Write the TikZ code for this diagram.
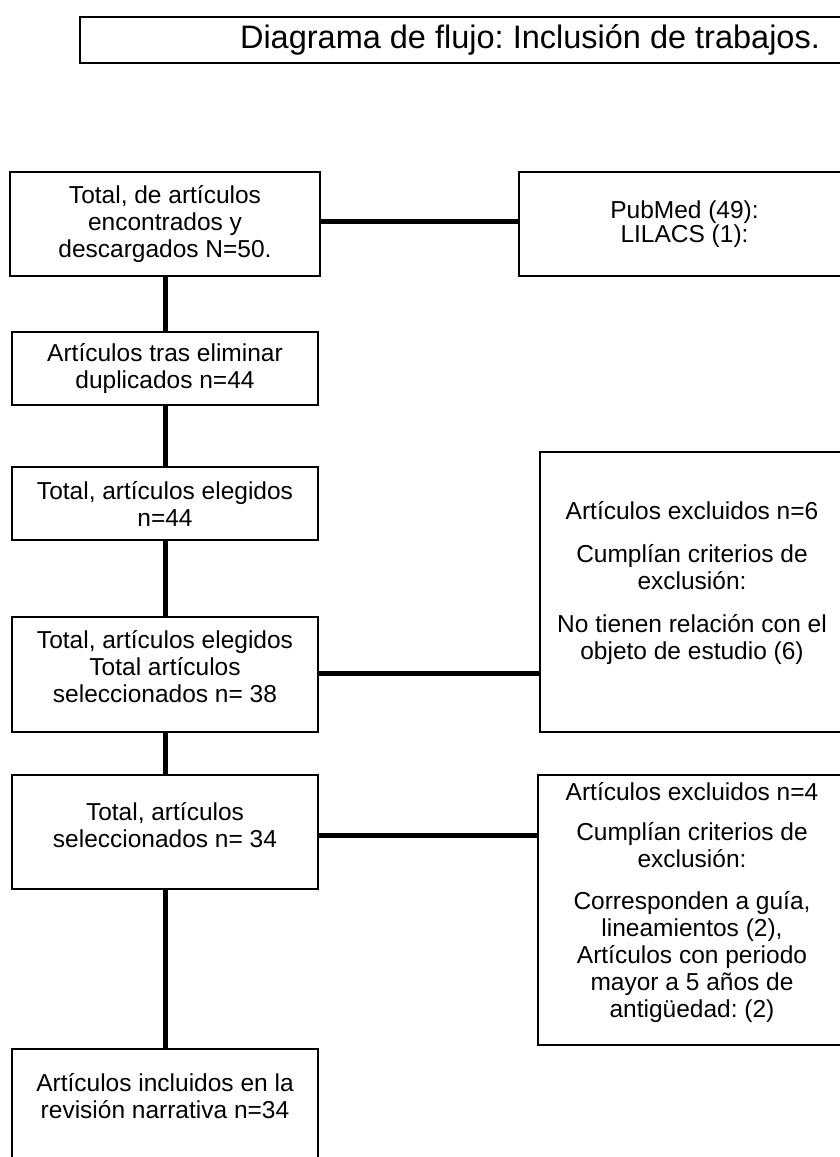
\documentclass[tikz,border=0pt]{standalone}
\usepackage{fontspec}
\setmainfont{Liberation Sans}
\frenchspacing
\begin{document}
\begin{tikzpicture}[x=1pt,y=-1pt,
  box/.style={draw=black, line width=2pt, align=center, inner sep=0pt,
    font=\fontsize{24.5}{27}\selectfont},
  plain/.style={align=center, inner sep=0pt, font=\fontsize{24.5}{27}\selectfont},
  conn/.style={line width=5pt}]
\useasboundingbox (0,0) rectangle (840,1157);
\clip (0,0) rectangle (840,1157);
\fill[white] (0,0) rectangle (840,1157);
% title
\node[draw=black, line width=1.5pt, minimum width=900pt, minimum height=46pt,
  inner sep=0pt, font=\fontsize{32.5}{36}\selectfont] (title) at (530,40)
  {Diagrama de flujo: Inclusión de trabajos.};
% left column
\node[box, minimum width=310pt, minimum height=104pt] (b1) at (165,224)
  {Total, de artículos\\encontrados y\\descargados N=50.};
\node[box, minimum width=331pt, minimum height=104pt] (pub) at (684.5,224)
  {PubMed (49):\\[-3pt]LILACS (1):};
\node[box, minimum width=306pt, minimum height=73pt] (b2) at (165,368.5)
  {Artículos tras eliminar\\duplicados n=44};
\node[box, minimum width=306pt, minimum height=73pt] (b3) at (165,503.5)
  {Total, artículos elegidos\\n=44};
\node[box, minimum width=306pt, minimum height=115pt] (b4) at (165,674.5) {};
\node[plain] (b4t) at (165,667)
  {Total, artículos elegidos\\Total artículos\\seleccionados n= 38};
\node[box, minimum width=306pt, minimum height=114pt] (b5) at (165,832) {};
\node[plain] (b5t) at (165,825.5)
  {Total, artículos\\seleccionados n= 34};
\node[draw=black, line width=2pt, minimum width=306pt, minimum height=160pt,
  inner sep=0pt, anchor=north] (b6) at (165,1048) {};
\node[plain] (b6t) at (165,1096.5)
  {Artículos incluidos en la\\revisión narrativa n=34};
% right column
\node[draw=black, line width=2pt, minimum width=310pt, minimum height=280pt,
  inner sep=0pt] (r1) at (695,592) {};
\node[plain] (r1t) at (692,583)
  {Artículos excluidos n=6\\[16pt]Cumplían criterios de\\exclusión:\\[16pt]No tienen relación con el\\objeto de estudio (6)};
\node[draw=black, line width=2pt, minimum width=312pt, minimum height=270pt,
  inner sep=0pt] (r2) at (694,910) {};
\node[plain] (r2t) at (692,903)
  {Artículos excluidos n=4\\[13pt]Cumplían criterios de\\exclusión:\\[15pt]Corresponden a guía,\\lineamientos (2),\\Artículos con periodo\\mayor a 5 años de\\antigüedad: (2)};
% connectors
\draw[conn] ([yshift=3pt]b1.east) -- ([yshift=3pt]b1.east -| pub.west);
\draw[conn] (b1.south) -- (b2.north);
\draw[conn] (b2.south) -- (b3.north);
\draw[conn] (b3.south) -- (b4.north);
\draw[conn] ([yshift=1.5pt]b4.east) -- ([yshift=1.5pt]b4.east -| r1.west);
\draw[conn] (b4.south) -- (b5.north);
\draw[conn] ([yshift=-3pt]b5.east) -- ([yshift=-3pt]b5.east -| r2.west);
\draw[conn] (b5.south) -- (b6.north);
\end{tikzpicture}
\end{document}
